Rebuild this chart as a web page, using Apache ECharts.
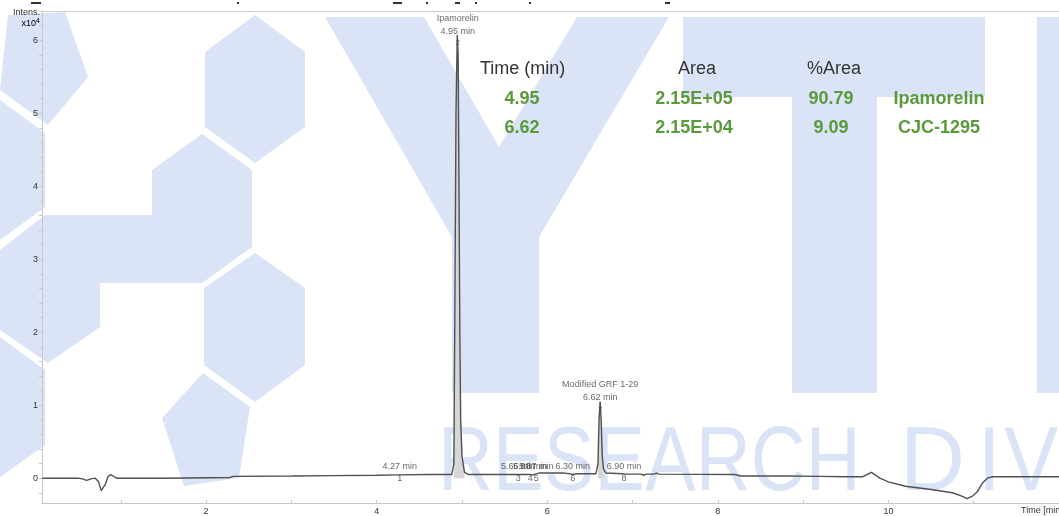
<!DOCTYPE html>
<html><head><meta charset="utf-8">
<script src="https://cdn.jsdelivr.net/npm/echarts@6/dist/echarts.min.js"></script>
<style>html,body{margin:0;padding:0;background:#fff;overflow:hidden}#c{width:1059px;height:516px;}</style>
</head><body><div id="c"></div>
<script>
// ---------- DATA ----------
const timeMin = [0.08,0.5,0.55,0.6,0.65,0.7,0.74,0.77,0.79,0.82,0.85,0.88,0.91,0.95,1.5,1.52,2.28,2.32,3.0,3.5,4.0,4.25,4.27,4.29,4.6,4.88,4.905,4.915,4.93,4.945,4.955,4.965,4.975,4.985,5.0,5.03,5.08,5.5,5.64,5.66,5.68,5.78,5.80,5.83,5.87,5.9,6.2,6.27,6.30,6.34,6.5,6.57,6.595,6.607,6.62,6.632,6.645,6.66,6.69,6.88,6.90,6.92,7.1,7.13,7.16,7.25,7.28,7.31,8.2,8.27,8.8,9.2,9.5,9.7,9.8,9.9,10.0,10.2,10.5,10.75,10.87,10.92,10.98,11.04,11.1,11.16,11.22,12.0];
const intensity = [0.0,0.0,-0.01,-0.03,-0.01,0.0,-0.05,-0.17,-0.19,-0.08,0.02,0.05,0.03,0.0,0.0,0.01,0.01,0.025,0.03,0.035,0.04,0.045,0.055,0.045,0.05,0.05,0.2,2.0,5.0,6.07,5.8,4.0,2.0,0.8,0.3,0.08,0.05,0.05,0.05,0.065,0.05,0.05,0.06,0.045,0.06,0.07,0.07,0.06,0.05,0.06,0.06,0.06,0.2,0.8,1.05,0.8,0.3,0.12,0.07,0.06,0.07,0.055,0.055,0.04,0.055,0.055,0.07,0.055,0.05,0.03,0.03,0.025,0.02,0.02,0.08,0.0,-0.05,-0.11,-0.155,-0.2,-0.25,-0.28,-0.25,-0.19,-0.07,0.0,0.02,0.02];

const peakNumbers = [1,2,3,4,5,6,7,8];
const peakTimes   = [4.27,4.95,5.66,5.80,5.87,6.30,6.62,6.90];
const peakNames   = ['','Ipamorelin','','','','','Modified GRF 1-29',''];
const integratedPeaks = [[4.89,5.06],[6.58,6.68]];

const xTickLabels = [2,4,6,8,10];
const xMinorTicks = [1,2,3,4,5,6,7,8,9,10,11];
const yTickLabels = [0,1,2,3,4,5,6];

const tableHeaders = ['Time (min)','Area','%Area'];
const tableTimes   = ['4.95','6.62'];
const tableAreas   = ['2.15E+05','2.15E+04'];
const tablePct     = ['90.79','9.09'];
const tableNames   = ['Ipamorelin','CJC-1295'];

// ---------- BUILD ----------
const trace = timeMin.map((t,i)=>[t,intensity[i]]);
function apexAt(t){let b=-Infinity;for(let i=0;i<timeMin.length;i++){if(Math.abs(timeMin[i]-t)<=0.03&&intensity[i]>b)b=intensity[i];}return b;}
const yMinor=[];for(let v=-0.2;v<=6.41;v+=0.2)yMinor.push(Math.round(v*10)/10);

const FONT='"Liberation Sans", Arial, sans-serif';
const WM='#dbe3f7';
const GREEN='#5a9a3a';

const wmPolys = [
 [[8,15],[65,12],[88,77],[48,125],[0,90]],
 [[0,100],[45,133],[45,207],[0,240]],
 [[205,52],[255,15],[305,52],[305,127],[255,163],[205,127]],
 [[152,170],[202,134],[252,170],[252,247],[202,283],[100,283],[100,327],[48,363],[0,330],[0,250],[45,215],[152,215]],
 [[0,337],[45,370],[45,445],[0,477]],
 [[204,288],[255,253],[305,288],[305,365],[255,402],[204,365]],
 [[162,418],[203,373],[250,407],[239,478],[184,486]],
 [[325,17],[424,17],[499,147],[577,17],[669,17],[539,237],[539,393],[452,393],[452,237]],
 [[683,17],[985,17],[985,97],[877,97],[877,393],[792,393],[792,97],[683,97]],
 [[1037,17],[1060,17],[1060,393],[1037,393]]
];
const graphics = wmPolys.map(p=>({type:'polygon',z:-10,silent:true,shape:{points:p},style:{fill:WM}}));
function wmText(s,x,sx){return {type:'text',z:-10,silent:true,x:x,y:420,scaleX:sx,style:{text:s,font:'90px '+FONT,fill:WM,align:'left',verticalAlign:'top'}};}
graphics.push(wmText('RESEARCH',438,0.845));
graphics.push(wmText('D',900,1.0));
graphics.push(wmText('I',978,0.9));
graphics.push(wmText('VISION',1004,0.9));

// cut-off strokes of the text above the picture
[[31,10],[237,2],[393,9],[426,2],[455,5],[475,2],[529,2],[665,5]].forEach(d=>{
  graphics.push({type:'rect',z:50,silent:true,shape:{x:d[0],y:2,width:d[1],height:2},style:{fill:'#333'}});
});

function txt(s,x,y,opt){return {type:'text',z:50,x:x,y:y,style:Object.assign({text:s,font:'18px '+FONT,fill:'#333',align:'center',verticalAlign:'middle'},opt||{})};}
graphics.push(txt(tableHeaders[0],480,69,{align:'left'}));
graphics.push(txt(tableHeaders[1],697,69));
graphics.push(txt(tableHeaders[2],834,69));
const rowY=[99,128];
for(let r=0;r<2;r++){
  const st={fill:GREEN,font:'bold 18px '+FONT};
  graphics.push(txt(tableTimes[r],522,rowY[r],st));
  graphics.push(txt(tableAreas[r],694,rowY[r],st));
  graphics.push(txt(tablePct[r],831,rowY[r],st));
  graphics.push(txt(tableNames[r],939,rowY[r],st));
}
graphics.push({type:'text',z:50,x:40,y:13,style:{text:'Intens.',font:'9px '+FONT,fill:'#333',align:'right',verticalAlign:'middle'}});
graphics.push({type:'text',z:50,x:40,y:24,style:{text:'{a|x10}{b|4}',align:'right',verticalAlign:'middle',rich:{a:{fontSize:9,fontFamily:FONT,color:'#333'},b:{fontSize:7,fontFamily:FONT,color:'#333',verticalAlign:'top',padding:[0,0,6,0]}}}});
graphics.push({type:'text',z:50,x:1021,y:511,style:{text:'Time [min]',font:'9px '+FONT,fill:'#333',align:'left',verticalAlign:'middle'}});

const namedPts=[],smallPts=[];
peakTimes.forEach((t,i)=>{
  if(peakNames[i]) namedPts.push({value:[t,apexAt(t)],name:peakNames[i],num:peakNumbers[i]});
  else smallPts.push({value:[t,0],num:peakNumbers[i]});
});
const inv={color:'rgba(0,0,0,0)'};
const lblBase={show:true,fontSize:9,fontFamily:FONT,color:'#444'};

const series=[
  ...integratedPeaks.map(r=>({type:'line',z:2,silent:true,showSymbol:false,animation:false,
     data:trace.filter(p=>p[0]>=r[0]&&p[0]<=r[1]),lineStyle:{width:0},areaStyle:{color:'#d6d6d6',opacity:1,origin:0}})),
  {type:'line',z:3,silent:true,showSymbol:false,animation:false,data:trace,lineStyle:{color:'#505050',width:1.4}},
  {type:'scatter',z:5,silent:true,animation:false,symbolSize:1,itemStyle:inv,
   data:namedPts.map(p=>({value:p.value,label:{formatter:p.name+'\n'+p.value[0].toFixed(2)+' min'}})),
   label:Object.assign({},lblBase,{position:'top',distance:0,lineHeight:13,offset:[0,3],align:'center'})},
  {type:'scatter',z:5,silent:true,animation:false,symbolSize:1,itemStyle:inv,
   data:namedPts.map(p=>({value:p.value,label:{formatter:String(p.num)}})),
   label:Object.assign({},lblBase,{fontSize:8,position:'inside',offset:[0,8]})},
  {type:'scatter',z:5,silent:true,animation:false,symbolSize:1,itemStyle:inv,
   data:smallPts.map(p=>({value:p.value,label:{formatter:p.value[0].toFixed(2)+' min'}})),
   label:Object.assign({},lblBase,{position:'inside',offset:[0,-12]})},
  {type:'scatter',z:5,silent:true,animation:false,symbolSize:1,itemStyle:inv,
   data:smallPts.map(p=>({value:p.value,label:{formatter:String(p.num)}})),
   label:Object.assign({},lblBase,{position:'inside',offset:[0,0]})}
];

const chart=echarts.init(document.getElementById('c'),null,{renderer:'canvas'});
chart.setOption({
  animation:false,
  backgroundColor:'#fff',
  grid:{left:42,right:0,top:11,bottom:13,show:false},
  xAxis:[{type:'value',min:0.076,max:12.0,position:'bottom',
    axisLine:{show:true,onZero:false,lineStyle:{color:'#c8c8c8',width:1}},
    axisTick:{show:true,inside:true,length:3,customValues:xMinorTicks,lineStyle:{color:'#c8c8c8'}},
    axisLabel:{customValues:xTickLabels,fontSize:9,fontFamily:FONT,color:'#333',margin:4},
    splitLine:{show:false}},
   {type:'value',position:'top',min:0.076,max:12.0,
    axisLine:{show:true,onZero:false,lineStyle:{color:'#cfcfcf',width:1}},
    axisTick:{show:false},axisLabel:{show:false},splitLine:{show:false}}],
  yAxis:{type:'value',min:-0.34,max:6.4,
    axisLine:{show:true,onZero:false,lineStyle:{color:'#c8c8c8',width:1}},
    axisTick:{show:true,inside:false,length:3,customValues:yMinor,lineStyle:{color:'#c8c8c8'}},
    axisLabel:{customValues:yTickLabels,fontSize:9,fontFamily:FONT,color:'#333',margin:4},
    splitLine:{show:false}},
  graphic:{elements:graphics},
  series:series
});
</script></body></html>
